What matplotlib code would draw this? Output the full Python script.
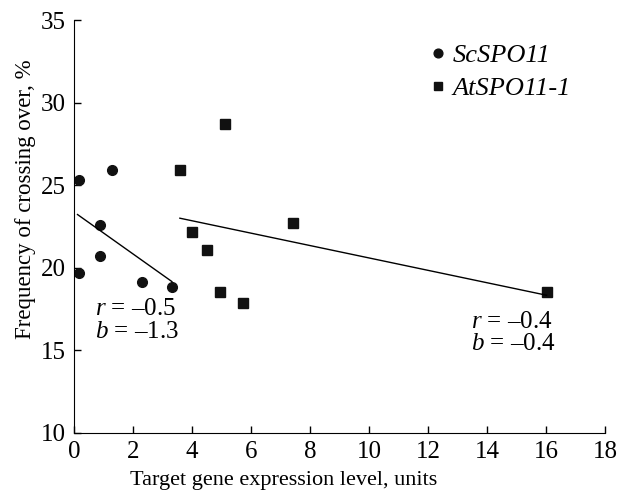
import numpy as np
from matplotlib import pyplot as plt

plt.rcParams['font.family'] = 'Liberation Serif'
plt.rcParams['mathtext.fontset'] = 'custom'
plt.rcParams['mathtext.it'] = 'Liberation Serif:italic'
plt.rcParams['mathtext.rm'] = 'Liberation Serif'

# ScSPO11 (circles)
sc_x = [0.18, 1.28, 0.88, 0.88, 0.18, 2.29, 3.32]
sc_y = [25.3, 25.92, 22.6, 20.7, 19.67, 19.16, 18.86]
# AtSPO11-1 (squares)
at_x = [3.59, 5.11, 3.99, 4.50, 7.43, 4.95, 5.74, 16.02]
at_y = [25.92, 28.69, 22.19, 21.08, 22.74, 18.53, 17.85, 18.53]

sc_stats = ("\u20130.5", "\u20131.3")
at_stats = ("\u20130.4", "\u20130.4")

fig = plt.figure(figsize=(6.29, 4.92), dpi=100)
ax = fig.add_axes([0.1176, 0.12, 0.8442, 0.8393])

ax.plot(sc_x, sc_y, 'o', color='#111111', markersize=7, label='ScSPO11')
ax.plot(at_x, at_y, 's', color='#111111', markersize=7, label='AtSPO11-1')

# regression lines
for xs, ys, x0 in [(sc_x, sc_y, 0.12), (at_x, at_y, min(at_x))]:
    k, c = np.polyfit(xs, ys, 1)
    xx = np.array([x0, max(xs)])
    ax.plot(xx, k * xx + c, color='black', lw=1)

ax.text(0.7, 16.8, "$r$ = %s\n$b$ = %s" % sc_stats, fontsize=18,
        va='center', linespacing=1.05)
ax.text(13.45, 16.05, "$r$ = %s\n$b$ = %s" % at_stats, fontsize=18,
        va='center', linespacing=1.05)

ax.set_xlim(0, 18)
ax.set_ylim(10, 35)
ax.set_xticks(range(0, 19, 2))
ax.set_yticks(range(10, 36, 5))
ax.tick_params(direction='in', length=5, labelsize=18, width=1)
ax.tick_params(axis='x', pad=6)
ax.tick_params(axis='y', pad=6)
for s in ['top', 'right']:
    ax.spines[s].set_visible(False)
ax.set_xlabel("Target gene expression level, units", fontsize=16, va='center')
ax.set_ylabel("Frequency of crossing over, %", fontsize=16.5, va='center')
ax.xaxis.set_label_coords(0.395, -0.114)
ax.yaxis.set_label_coords(-0.091, 0.567)

ax.legend(loc='upper left', bbox_to_anchor=(0.614, 1.0), frameon=False,
          prop={'style': 'italic', 'size': 19}, handletextpad=0.0,
          handlelength=1.1, markerscale=0.9, labelspacing=0.35)

plt.savefig("out.png", dpi=100)
